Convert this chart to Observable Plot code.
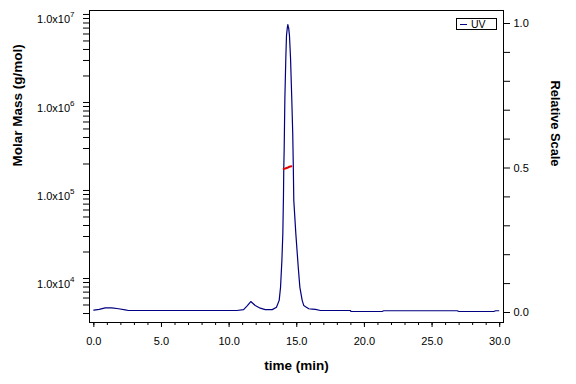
<!DOCTYPE html>
<html><head><meta charset="utf-8">
<script src="https://cdn.jsdelivr.net/npm/d3@7"></script>
<script src="https://cdn.jsdelivr.net/npm/@observablehq/plot@0.6"></script>
<style>
body{margin:0;background:#fff;}
#wrap{position:relative;width:576px;height:384px;overflow:hidden;}
#legend{position:absolute;left:456px;top:18px;width:41px;height:12px;box-sizing:border-box;border:1px solid #000;background:#fff;font:10.5px "Liberation Sans",Arial,sans-serif;color:#000;}
#legend .ln{position:absolute;left:3px;top:5px;width:7px;height:1px;background:#000080;}
#legend .tx{position:absolute;left:14px;top:-1px;line-height:12px;}
</style></head><body><div id="wrap"></div>
<script>
// UV trace (relative scale)
const time = [0.00,0.40,0.84,1.33,1.83,2.32,2.56,5.00,8.00,10.57,11.07,11.35,11.60,11.93,12.30,12.67,13.19,13.50,13.70,13.80,13.90,13.97,14.02,14.04,14.07,14.12,14.19,14.24,14.30,14.34,14.37,14.40,14.46,14.54,14.63,14.70,14.74,14.78,14.93,15.11,15.23,15.40,15.52,15.65,15.89,16.14,16.38,16.75,18.97,19.00,21.30,21.43,26.86,26.98,29.56,29.70,29.93];
const uv   = [0.008,0.011,0.016,0.016,0.013,0.009,0.007,0.007,0.007,0.007,0.010,0.024,0.038,0.024,0.015,0.010,0.010,0.018,0.042,0.087,0.180,0.273,0.412,0.502,0.567,0.740,0.879,0.958,0.985,0.996,0.990,0.985,0.958,0.879,0.740,0.623,0.519,0.388,0.273,0.156,0.087,0.042,0.024,0.020,0.013,0.012,0.011,0.007,0.007,0.0035,0.0035,0.006,0.006,0.0035,0.0035,0.006,0.006];
// Molar mass trace
const massTime = [14.03,14.15,14.30,14.45,14.60];
const molarMass = [1.76e5,1.78e5,1.81e5,1.86e5,1.88e5];
// Tick values
const xTicks = [0,5,10,15,20,25,30];
const massTicks = [1e4,1e5,1e6,1e7];
const uvTicks = [0,0.5,1.0];
const uvTickLabels = ["0.0","0.5","1.0"];

const massDomain = [Math.pow(10,3.5), Math.pow(10,7.045)];
const uvDomain = [-0.0346, 1.045];
const lo = Math.log10(massDomain[0]), hi = Math.log10(massDomain[1]);
const uvToMass = u => Math.pow(10, lo + (u - uvDomain[0]) / (uvDomain[1] - uvDomain[0]) * (hi - lo));

const uvData = time.map((t, i) => ({t, u: uv[i]}));
const massData = massTime.map((t, i) => ({t, m: molarMass[i]}));
const uvLabelData = uvTicks.map((u, i) => ({u, label: uvTickLabels[i]}));

const minorMass = [];
for (let n = 3; n <= 7; n++) for (let k = 2; k <= 9; k++) {
  const v = k * Math.pow(10, n);
  if (v >= massDomain[0] && v <= massDomain[1]) minorMass.push(v);
}
const minorX = d3.range(0, 31, 1);
const minorUv = d3.range(0, 11).map(i => i / 10);

const chart = Plot.plot({
  width: 576, height: 384,
  marginLeft: 89, marginRight: 73, marginTop: 10, marginBottom: 62,
  style: {fontFamily: '"Liberation Sans", Arial, sans-serif', fontSize: "11px", color: "#000", background: "#fff"},
  x: {domain: [-0.32, 30.28]},
  y: {type: "log", domain: massDomain},
  marks: [
    Plot.frame({stroke: "#000"}),
    Plot.axisX({ticks: minorX, tickSize: 3, tickFormat: () => "", label: null}),
    Plot.axisX({ticks: xTicks, tickSize: 5, tickPadding: 10, tickFormat: d => d.toFixed(1), label: null}),
    Plot.axisY({anchor: "left", ticks: minorMass, tickSize: 6, tickFormat: () => "", label: null}),
    Plot.axisY({anchor: "left", ticks: massTicks, tickSize: 6, tickPadding: 9, tickFormat: d => "1.0x10^" + Math.round(Math.log10(d)), label: null}),
    Plot.axisY({anchor: "right", ticks: minorUv.map(uvToMass), tickSize: 6, tickFormat: () => "", label: null}),
    Plot.text(uvLabelData, {y: d => uvToMass(d.u), text: "label", frameAnchor: "right", dx: 10, textAnchor: "start", fontSize: 11}),
    Plot.line(uvData, {x: "t", y: d => uvToMass(d.u), stroke: "#000080", strokeWidth: 1.2}),
    Plot.line(massData, {x: "t", y: "m", stroke: "#e00000", strokeWidth: 2}),
    Plot.text(["time (min)"], {text: d => d, frameAnchor: "bottom", dy: 47, fontWeight: "bold", fontSize: 13.5}),
    Plot.text(["Molar Mass (g/mol)"], {text: d => d, frameAnchor: "left", dx: -72, rotate: -90, fontWeight: "bold", fontSize: 13.5}),
    Plot.text(["Relative Scale"], {text: d => d, frameAnchor: "right", dx: 52, rotate: 90, fontWeight: "bold", fontSize: 12.8})
  ]
});

// superscript exponents
chart.querySelectorAll("text").forEach(el => {
  const m = /^1\.0x10\^(\d+)$/.exec(el.textContent);
  if (m) {
    while (el.firstChild) el.removeChild(el.firstChild);
    const ns = "http://www.w3.org/2000/svg";
    const a = document.createElementNS(ns, "tspan");
    a.textContent = "1.0x10";
    const b = document.createElementNS(ns, "tspan");
    b.textContent = m[1];
    b.setAttribute("dy", "-6");
    b.setAttribute("font-size", "8");
    el.appendChild(a); el.appendChild(b);
    el.setAttribute("dy", "0.5em");
  }
});

const wrap = document.getElementById("wrap");
wrap.appendChild(chart);
const lg = document.createElement("div");
lg.id = "legend";
lg.innerHTML = '<span class="ln"></span><span class="tx">UV</span>';
wrap.appendChild(lg);
</script>
</body></html>
